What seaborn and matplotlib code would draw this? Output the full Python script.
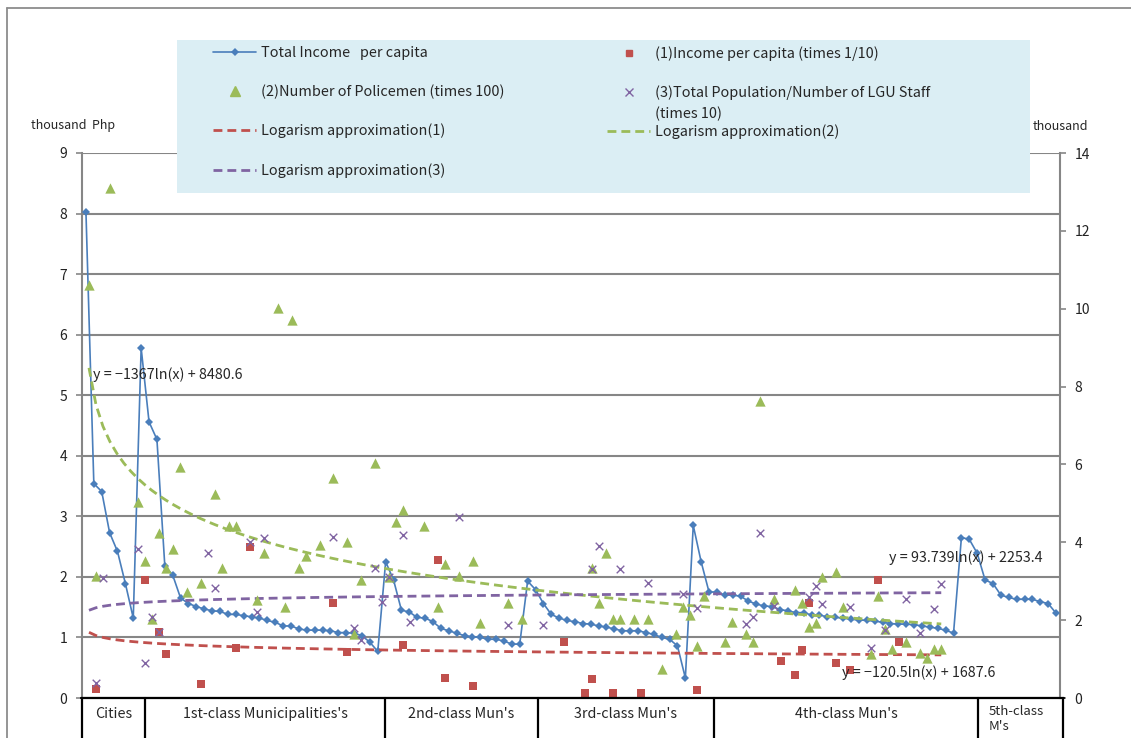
import numpy as np
import matplotlib
matplotlib.use("Agg")
import matplotlib.pyplot as plt
from matplotlib.lines import Line2D
from matplotlib.patches import Rectangle
import seaborn as sns

# ---------------- data ----------------
class_labels = ["Cities", "1st-class Municipalities's", "2nd-class Mun's",
                "3rd-class Mun's", "4th-class Mun's", "5th-class\nM's"]

# Total income per capita (thousand Php, left axis), sorted within each class
income_cities = [8.03, 3.54, 3.41, 2.73, 2.42, 1.89, 1.32]
income_1st = [5.78, 4.56, 4.27, 2.18, 2.03, 1.65, 1.56, 1.51, 1.47, 1.44, 1.43,
              1.38, 1.38, 1.36, 1.34, 1.32, 1.28, 1.25, 1.19, 1.19, 1.14, 1.12,
              1.12, 1.12, 1.11, 1.08, 1.08, 1.07, 1.03, 0.92, 0.77]
income_2nd = [2.25, 1.95, 1.45, 1.42, 1.33, 1.32, 1.26, 1.15, 1.11, 1.07, 1.03,
              1.01, 1.00, 0.97, 0.97, 0.94, 0.89, 0.89]
income_3rd = [1.93, 1.79, 1.56, 1.38, 1.32, 1.28, 1.26, 1.23, 1.22, 1.19, 1.17,
              1.14, 1.11, 1.11, 1.11, 1.08, 1.05, 1.00, 0.97, 0.86, 0.33]
income_4th = [2.85, 2.25, 1.75, 1.75, 1.70, 1.70, 1.68, 1.60, 1.55, 1.52, 1.51,
              1.46, 1.44, 1.41, 1.41, 1.37, 1.37, 1.34, 1.33, 1.32, 1.30, 1.29,
              1.28, 1.27, 1.25, 1.23, 1.22, 1.22, 1.21, 1.19, 1.17, 1.15, 1.12, 1.07]
income_5th = [2.65, 2.62, 2.39, 1.95, 1.89, 1.70, 1.66, 1.63, 1.63, 1.63, 1.59,
              1.56, 1.40]

# (1) Income per capita (times 1/10) -- LGU number and value (right axis)
inc_k = [2, 9, 11, 12, 17, 22, 24, 36, 38, 46, 51, 52, 56, 69, 72, 73, 76, 80,
         88, 100, 102, 103, 104, 108, 110, 114, 117]
inc_v = [0.23, 3.03, 1.70, 1.13, 0.35, 1.28, 3.87, 2.45, 1.19, 1.36, 3.54, 0.51,
         0.32, 1.43, 0.12, 0.48, 0.12, 0.12, 0.21, 0.95, 0.59, 1.23, 2.44, 0.89,
         0.72, 3.03, 1.45]

# (2) Number of policemen (times 100)
pol_k = [1, 2, 4, 8, 9, 10, 11, 12, 13, 14, 15, 17, 19, 20, 21, 22, 25, 26, 28,
         29, 30, 31, 32, 34, 36, 38, 39, 40, 42, 44, 45, 46, 49, 51, 52, 54, 56,
         57, 61, 63, 73, 74, 75, 76, 77, 79, 81, 83, 85, 86, 87, 88, 89, 92, 93,
         95, 96, 97, 99, 102, 103, 104, 105, 106, 108, 109, 113, 114, 115, 116,
         118, 120, 121, 122, 123]
pol_v = [10.61, 3.14, 13.11, 5.04, 3.53, 2.02, 4.23, 3.35, 3.83, 5.94, 2.73,
         2.95, 5.23, 3.35, 4.43, 4.43, 2.52, 3.72, 10.03, 2.33, 9.71, 3.35, 3.65,
         3.93, 5.64, 4.02, 1.64, 3.03, 6.03, 3.12, 4.53, 4.83, 4.43, 2.33, 3.43,
         3.13, 3.53, 1.93, 2.43, 2.03, 3.33, 2.43, 3.72, 2.03, 2.03, 2.03, 2.03,
         0.74, 1.64, 2.35, 2.13, 1.34, 2.63, 1.45, 1.96, 1.64, 1.45, 7.64, 2.54,
         2.77, 2.43, 1.83, 1.93, 3.12, 3.23, 2.35, 1.12, 2.62, 1.76, 1.25, 1.45,
         1.15, 1.02, 1.25, 1.25]

# (3) Total population / number of LGU staff (times 10)
pop_k = [2, 3, 8, 9, 10, 11, 18, 19, 24, 25, 26, 36, 39, 40, 42, 43, 44, 46, 47,
         54, 61, 66, 73, 74, 77, 81, 86, 88, 95, 96, 97, 99, 104, 105, 106, 110,
         113, 115, 118, 120, 122, 123]
pop_v = [0.39, 3.07, 3.83, 0.91, 2.09, 1.69, 3.72, 2.83, 4.02, 2.20, 4.10, 4.13,
         1.81, 1.49, 3.35, 2.46, 3.12, 4.19, 1.96, 4.64, 1.88, 1.88, 3.31, 3.90,
         3.31, 2.96, 2.66, 2.32, 1.89, 2.07, 4.23, 2.37, 2.60, 2.88, 2.41, 2.35,
         1.28, 1.75, 2.54, 1.68, 2.29, 2.92]

# logarithmic trend lines  y = a*ln(x) + b  (Php), over LGU 1..123
trend_inc = (-120.5, 1687.6)
trend_pol = (-1367.0, 8480.6)
trend_pop = (93.739, 2253.4)
trend_n = 123

eq_labels = ["y = \u22121367ln(x) + 8480.6", "y = 93.739ln(x) + 2253.4",
             "y = \u2212120.5ln(x) + 1687.6"]

legend_labels = ["Total Income   per capita", "(1)Income per capita (times 1/10)",
                 "(2)Number of Policemen (times 100)",
                 "(3)Total Population/Number of LGU Staff",
                 "Logarism approximation(1)", "Logarism approximation(2)",
                 "Logarism approximation(3)"]

# ---------------- style ----------------
sns.set_style("white")
plt.rcParams['font.family'] = ['Noto Sans CJK JP', 'DejaVu Sans']
plt.rcParams['axes.unicode_minus'] = True

BLUE = "#4A7EBB"
RED = "#C0504D"
GREEN = "#9BBB59"
PURPLE = "#8064A2"
GRAY = "#868686"

W, H = 1131, 738
fig = plt.figure(figsize=(W / 100, H / 100), dpi=100)
fig.patch.set_facecolor("white")


def fx(px):
    return px / W


def fy(py):
    return 1 - py / H


pos = [fx(82), fy(698), fx(1060) - fx(82), fy(153) - fy(698)]
ax = fig.add_axes(pos)
ax2 = fig.add_axes(pos, frameon=False)

# ---------------- primary: total income line ----------------
total_income = income_cities + income_1st + income_2nd + income_3rd + income_4th + income_5th
idx = np.arange(len(total_income))
sns.lineplot(x=idx, y=total_income, ax=ax, color=BLUE, lw=1.2, marker="D",
             markersize=4.5, markeredgewidth=0, zorder=3)
ax.set_xlim(-0.5, len(total_income) - 0.5)
ax.set_ylim(0, 9)
ax.set_yticks(range(0, 10))
ax.set_xticks([])
ax.yaxis.grid(True, color=GRAY, lw=1.5)
ax.xaxis.grid(False)
ax.set_axisbelow(True)
for s in ["top", "bottom"]:
    ax.spines[s].set_visible(False)
for s in ["left", "right"]:
    ax.spines[s].set_color(GRAY)
    ax.spines[s].set_linewidth(1.5)
ax.tick_params(axis="y", which="both", left=True, length=4.5, width=1.2,
               color=GRAY, labelsize=10, pad=6, labelcolor="#222222")
ax.set_xlabel("")
ax.set_ylabel("")

# ---------------- secondary: scatter series + trends ----------------
sns.scatterplot(x=inc_k, y=inc_v, ax=ax2, marker="s", color=RED, s=26,
                linewidth=0, zorder=4)
sns.scatterplot(x=pol_k, y=pol_v, ax=ax2, marker="^", color=GREEN, s=55,
                linewidth=0, zorder=4)
sns.scatterplot(x=pop_k, y=pop_v, ax=ax2, marker="x", color=PURPLE, s=30,
                linewidth=1.0, zorder=4)

tx = np.arange(1, trend_n + 1)
for (a, b), col in [(trend_inc, RED), (trend_pol, GREEN), (trend_pop, PURPLE)]:
    sns.lineplot(x=tx, y=(a * np.log(tx) + b) / 1000.0, ax=ax2, color=col,
                 lw=2.0, linestyle=(0, (3.2, 1.8)), zorder=3)

ax2.set_xlim(0, 140)
ax2.set_ylim(0, 14)
ax2.set_yticks(range(0, 15, 2))
ax2.set_xticks([])
ax2.yaxis.tick_right()
ax2.grid(False)
ax2.tick_params(axis="y", right=True, left=False, length=4.5, width=1.2,
                color=GRAY, labelsize=10, pad=6, labelcolor="#222222")
ax2.set_xlabel("")
ax2.set_ylabel("")

# ---------------- axis titles ----------------
fig.text(fx(31), fy(126), "thousand  Php", fontsize=9, va="center", ha="left")
fig.text(fx(1033), fy(126), "thousand", fontsize=9, va="center", ha="left")

# ---------------- equations ----------------
fig.text(fx(93), fy(375), eq_labels[0], fontsize=10.3, va="center", ha="left")
fig.text(fx(889), fy(558), eq_labels[1], fontsize=10.3, va="center", ha="left")
fig.text(fx(842), fy(673), eq_labels[2], fontsize=10.3, va="center", ha="left")

# ---------------- legend ----------------
fig.add_artist(Rectangle((fx(177), fy(193)), fx(1030) - fx(177), fy(40) - fy(193),
                         transform=fig.transFigure, facecolor="#DBEEF4",
                         edgecolor="none", zorder=4))

h_blue = Line2D([], [], color=BLUE, lw=1.2, marker="D", markersize=4.5, markeredgewidth=0)
h_red = Line2D([], [], ls="none", marker="s", color=RED, markersize=5)
h_green = Line2D([], [], ls="none", marker="^", color=GREEN, markersize=7)
h_purple = Line2D([], [], ls="none", marker="x", color=PURPLE, markersize=5.5, markeredgewidth=1.0)
h_tr1 = Line2D([], [], color=RED, lw=2.0, ls=(0, (3.2, 1.8)))
h_tr2 = Line2D([], [], color=GREEN, lw=2.0, ls=(0, (3.2, 1.8)))
h_tr3 = Line2D([], [], color=PURPLE, lw=2.0, ls=(0, (3.2, 1.8)))

leg_kw = dict(frameon=False, fontsize=10.4, loc="upper left", borderpad=0,
              borderaxespad=0, handlelength=3.0, handletextpad=0.3,
              labelspacing=1.70, numpoints=1)
leg1 = fig.legend([h_blue, h_green, h_tr1, h_tr3],
                  [legend_labels[0], legend_labels[2], legend_labels[4], legend_labels[6]],
                  bbox_to_anchor=(fx(213), fy(46)), **leg_kw)
leg2 = fig.legend([h_red, h_purple, h_tr2],
                  [legend_labels[1], legend_labels[3], legend_labels[5]],
                  bbox_to_anchor=(fx(607), fy(46)), **leg_kw)
leg1.set_zorder(6)
leg2.set_zorder(6)
t3 = leg2.get_texts()[1]
fig.add_artist(plt.Annotation("(times 10)", xy=(0, 0.5), xycoords=t3,
                              xytext=(0, -21), textcoords="offset pixels",
                              fontsize=10.4, va="center", ha="left", zorder=7))

# ---------------- category table ----------------
def fline(x0, y0, x1, y1, **kw):
    fig.add_artist(Line2D([fx(x0), fx(x1)], [fy(y0), fy(y1)],
                          transform=fig.transFigure, **kw))

fline(81, 698, 1064, 698, color="black", lw=1.6, zorder=5)
bounds = [82, 145, 385, 538, 714, 978, 1063]
for b in bounds:
    fline(b, 698, b, 740, color="black", lw=1.6, zorder=5)
for i, lab in enumerate(class_labels):
    if "\n" in lab:
        fig.text(fx(bounds[i] + 11), fy(719), lab, fontsize=9.5, va="center",
                 ha="left", linespacing=1.25)
    else:
        fig.text(fx((bounds[i] + bounds[i + 1]) / 2), fy(714), lab, fontsize=10.3,
                 va="center", ha="center")

# ---------------- outer chart border ----------------
fline(7, 8, 1131, 8, color="#8C8C8C", lw=1.3)
fline(7, 8, 7, 738, color="#8C8C8C", lw=1.3)

fig.savefig("out.png", dpi=100)
